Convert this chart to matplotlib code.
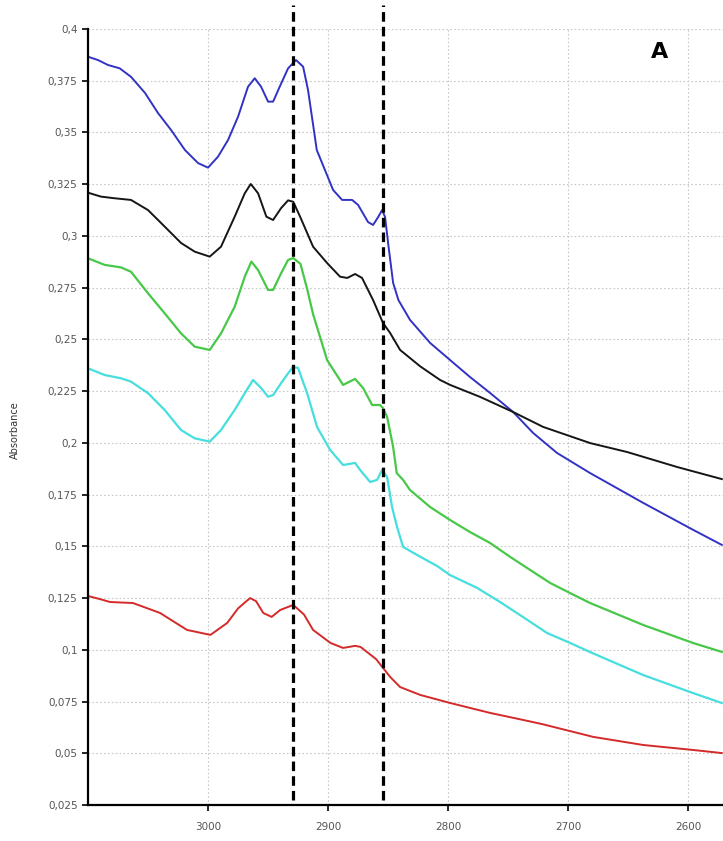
import matplotlib
matplotlib.use("Agg")
import matplotlib.pyplot as plt
from matplotlib.ticker import FixedLocator, FuncFormatter

# ============================================
# データ
# ============================================
blue_x = [3100, 3091.7, 3083.3, 3073.6, 3064.2, 3052.5, 3041.7, 3030.8, 3019.2, 3008.3,
          3000, 2991.7, 2983.3, 2975, 2966.7, 2961.1, 2955.8, 2950, 2945.8, 2940.3,
          2933.3, 2926.7, 2920.8, 2916.7, 2909.4, 2895.8, 2888.3, 2880, 2875, 2866.7,
          2862.5, 2858.3, 2855, 2852.5, 2850, 2845.8, 2841.4, 2831.7, 2815, 2798.3,
          2781.7, 2765, 2745.8, 2729.2, 2709.2, 2681.7, 2637.5, 2596, 2572]
blue_y = [0.3866, 0.385, 0.3826, 0.381, 0.3769, 0.3691, 0.3594, 0.3512, 0.3415, 0.3352,
          0.333, 0.3383, 0.3464, 0.3576, 0.3721, 0.3762, 0.3721, 0.3649, 0.3649, 0.3721,
          0.381, 0.385, 0.3818, 0.3705, 0.3415, 0.3222, 0.3174, 0.3174, 0.315, 0.3067,
          0.3053, 0.3091, 0.3125, 0.3091, 0.2966, 0.2773, 0.269, 0.2594, 0.2483, 0.24,
          0.2318, 0.2241, 0.2149, 0.2048, 0.1951, 0.1854, 0.171, 0.158, 0.1507]

black_x = [3100, 3089.2, 3077.8, 3064.2, 3050, 3036.1, 3022.5, 3011.1, 2998.6, 2989.2,
           2977.8, 2969.4, 2964.4, 2958.3, 2951.4, 2945.8, 2939.2, 2933.3, 2929, 2923.3,
           2912.5, 2900.8, 2890, 2884, 2877.5, 2871.7, 2862.5, 2854.2, 2848.3, 2840,
           2823.3, 2806.7, 2798.3, 2773.3, 2745.8, 2720.8, 2681.7, 2651, 2609, 2572]
black_y = [0.3209, 0.319, 0.3182, 0.3174, 0.3125, 0.3045, 0.2966, 0.2924, 0.29, 0.2948,
           0.3093, 0.3206, 0.3251, 0.3206, 0.3093, 0.3077, 0.3134, 0.3172, 0.3165, 0.3093,
           0.2948, 0.2869, 0.2803, 0.2797, 0.2816, 0.2797, 0.269, 0.2579, 0.2531, 0.2449,
           0.237, 0.2304, 0.228, 0.2222, 0.2149, 0.2077, 0.1999, 0.1956, 0.1883, 0.1825]

green_x = [3100, 3086.1, 3072.5, 3064.2, 3050, 3036.1, 3022.5, 3011.1, 2998.6, 2989.2,
           2977.8, 2969.4, 2963.9, 2958.3, 2950, 2945.8, 2939.2, 2933.3, 2929, 2923,
           2917.5, 2912.5, 2906.7, 2900.8, 2887.5, 2877.5, 2870.8, 2863.3, 2856.7, 2854.2,
           2850.8, 2845.8, 2842.8, 2837.5, 2831.7, 2815, 2798.3, 2781.7, 2765, 2748.3,
           2731.7, 2715, 2698.3, 2681.7, 2637.5, 2596, 2572]
green_y = [0.2892, 0.286, 0.2848, 0.2827, 0.2723, 0.2626, 0.2529, 0.2465, 0.2449, 0.2529,
           0.2658, 0.2803, 0.2876, 0.2835, 0.2739, 0.2739, 0.2819, 0.2884, 0.2893, 0.2865,
           0.2745, 0.2622, 0.2512, 0.24, 0.228, 0.2309, 0.2265, 0.2183, 0.2183, 0.2168,
           0.2125, 0.198, 0.1854, 0.1821, 0.1772, 0.169, 0.1627, 0.1569, 0.1516, 0.1449,
           0.1386, 0.1323, 0.1274, 0.1226, 0.112, 0.1033, 0.099]

cyan_x = [3100, 3086.1, 3072.5, 3064.2, 3050, 3036.1, 3022.5, 3011.1, 2998.6, 2989.2,
          2977.8, 2969.4, 2962.5, 2955.6, 2950, 2945.8, 2939.2, 2933.3, 2929.2, 2925,
          2917.5, 2909.2, 2898.3, 2887.5, 2877.5, 2873.3, 2865, 2859.2, 2855, 2850.8,
          2846.7, 2842.5, 2837.5, 2823.3, 2809.2, 2798.3, 2775.8, 2756.7, 2737.5, 2717.5,
          2698.3, 2681.7, 2637.5, 2596, 2572]
cyan_y = [0.236, 0.2328, 0.2312, 0.2296, 0.224, 0.2159, 0.2062, 0.2022, 0.2006, 0.2062,
          0.2159, 0.224, 0.2304, 0.2264, 0.2223, 0.2231, 0.2288, 0.2336, 0.2367, 0.2362,
          0.2241, 0.2077, 0.1966, 0.1893, 0.1903, 0.1869, 0.1811, 0.1821, 0.1869, 0.1835,
          0.169, 0.1593, 0.1497, 0.145, 0.1405, 0.1361, 0.1299, 0.1231, 0.1158, 0.1081,
          0.1033, 0.0989, 0.0878, 0.0791, 0.0743]

red_x = [3100, 3090, 3081.7, 3062.5, 3040, 3017.5, 2998, 2984, 2975, 2965,
         2960, 2954, 2947, 2940, 2929, 2920, 2912.5, 2898, 2887.5, 2877.5,
         2873, 2860, 2848.3, 2840, 2823.3, 2798.3, 2765, 2737.5, 2721, 2679,
         2637.5, 2596, 2572]
red_y = [0.126, 0.1245, 0.1231, 0.1226, 0.1178, 0.1096, 0.1072, 0.113, 0.12, 0.125,
         0.1235, 0.1178, 0.1159, 0.1192, 0.1217, 0.117, 0.1096, 0.1033, 0.1009, 0.1019,
         0.1014, 0.0955, 0.0869, 0.082, 0.0782, 0.0743, 0.0695, 0.0661, 0.064, 0.0579,
         0.054, 0.0516, 0.0501]

peak_lines = [2929, 2854]

x_ticks = [3000, 2900, 2800, 2700, 2600]
y_ticks = [0.025, 0.05, 0.075, 0.1, 0.125, 0.15, 0.175, 0.2, 0.225, 0.25,
           0.275, 0.3, 0.325, 0.35, 0.375, 0.4]

# ============================================
# 描画
# ============================================
plt.rcParams["font.family"] = ["DejaVu Sans"]

fig = plt.figure(figsize=(7.23, 8.41), dpi=100)
ax = fig.add_axes([88 / 723, 1 - 805 / 841, 1 - 88 / 723, (805 - 29) / 841])

ax.plot(blue_x, blue_y, color="#3232c4", lw=1.4)
ax.plot(black_x, black_y, color="#151515", lw=1.4)
ax.plot(green_x, green_y, color="#48c848", lw=1.6)
ax.plot(cyan_x, cyan_y, color="#46dede", lw=1.6)
ax.plot(red_x, red_y, color="#d42a2a", lw=1.4)

# ピーク位置の破線
for xv in peak_lines:
    ax.axvline(xv, ymin=0.007, ymax=1.031, color="black", lw=2.3,
               linestyle=(0, (3.0, 1.6)), clip_on=False, zorder=5)

ax.set_xlim(3100, 2571)
ax.set_ylim(0.025, 0.4)

ax.xaxis.set_major_locator(FixedLocator(x_ticks))
ax.yaxis.set_major_locator(FixedLocator(y_ticks))
ax.yaxis.set_major_formatter(
    FuncFormatter(lambda v, p: f"{v:.3f}".rstrip("0").replace(".", ","))
)

ax.grid(True, color="#c8c8c8", linestyle=(0, (1.5, 2)), linewidth=0.8)
ax.set_axisbelow(True)

for side in ["top", "right"]:
    ax.spines[side].set_visible(False)
for side in ["left", "bottom"]:
    ax.spines[side].set_linewidth(1.6)

ax.tick_params(axis="both", direction="out", length=4, width=1.2,
               labelsize=7.5, labelcolor="#555555")
ax.tick_params(axis="x", pad=8)

ax.set_ylabel("Absorbance", fontsize=7, color="#333333")
ax.yaxis.set_label_coords(-0.107, 0.483)

ax.text(0.90, 0.97, "A", transform=ax.transAxes, fontsize=16,
        fontweight="bold", ha="center", va="center")

fig.savefig("out.png", dpi=100)
